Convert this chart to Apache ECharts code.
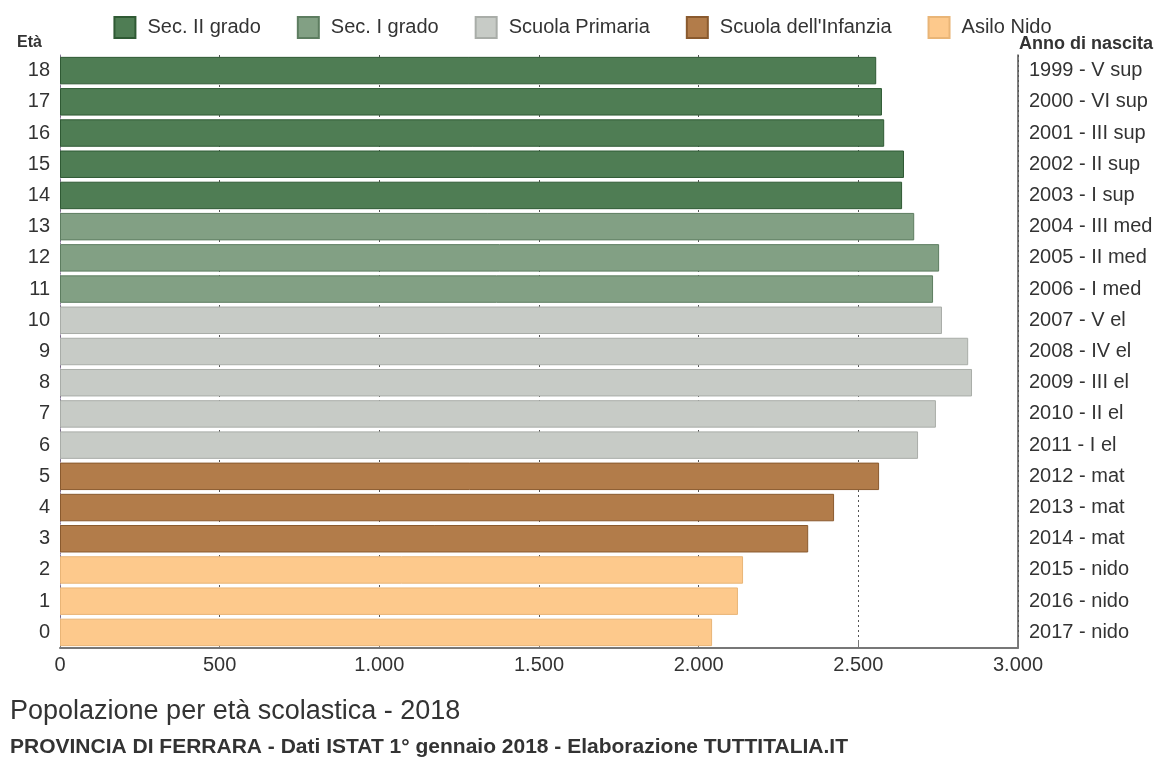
<!DOCTYPE html>
<html><head><meta charset="utf-8">
<script src="https://cdn.jsdelivr.net/npm/echarts@6/dist/echarts.min.js"></script>
<style>html,body{margin:0;padding:0;background:#fff}#c{width:1165px;height:762px}</style>
</head><body><div id="c"></div>
<script>
const ages = ['0','1','2','3','4','5','6','7','8','9','10','11','12','13','14','15','16','17','18'];
const birthLabels = ['2017 - nido','2016 - nido','2015 - nido','2014 - mat','2013 - mat','2012 - mat','2011 - I el','2010 - II el','2009 - III el','2008 - IV el','2007 - V el','2006 - I med','2005 - II med','2004 - III med','2003 - I sup','2002 - II sup','2001 - III sup','2000 - VI sup','1999 - V sup'];
const population = [2042,2123,2139,2343,2424,2565,2687,2743,2856,2844,2762,2734,2753,2675,2637,2643,2581,2574,2556];
const groupNames = ['Sec. II grado','Sec. I grado','Scuola Primaria',"Scuola dell'Infanzia",'Asilo Nido'];
const groupAges = [[14,18],[11,13],[6,10],[3,5],[0,2]];
const xTicks = [0,500,1000,1500,2000,2500,3000];

const colors = ['#4f7d54','#82a084','#c7cbc6','#b27c4a','#fdc98c'];
const borders = ['#2f5a34','#5d7d60','#a9ada8','#8a5a2e','#e9b577'];

const series = groupNames.map((name,i)=>({
  name, type:'bar', stack:'s', barCategoryGap:'12%',
  itemStyle:{color:colors[i], borderColor:borders[i], borderWidth:1},
  data: population.map((v,a)=> (a>=groupAges[i][0] && a<=groupAges[i][1]) ? v : '-')
}));

const chart = echarts.init(document.getElementById('c'));
chart.setOption({
  animation:false,
  backgroundColor:'#fff',
  textStyle:{fontFamily:'Liberation Sans'},
  legend:{top:11,left:'center',itemWidth:21,itemHeight:21,itemGap:36,icon:'rect',
    textStyle:{fontSize:20,color:'#333',padding:[0,0,0,7]}, data:groupNames},
  grid:{left:60,right:147,top:55,bottom:114},
  xAxis:{type:'value',min:0,max:3000,interval:500,
    axisLine:{show:true,lineStyle:{color:'#777',width:2}},
    axisTick:{show:true,inside:true,length:8,lineStyle:{color:'#777'}},
    axisLabel:{fontSize:20,color:'#333',margin:7,formatter:v=>v.toLocaleString('it-IT').replace(/\s/g,'.')},
    splitLine:{show:true,lineStyle:{color:'#555',type:[2,3],width:1}}},
  yAxis:[
    {type:'category',data:ages,position:'left',
      axisLine:{show:true,lineStyle:{color:'#8a7a9a',type:'dotted'}},axisTick:{show:false},
      axisLabel:{fontSize:20,color:'#333',margin:10}},
    {type:'category',data:birthLabels,position:'right',offset:0,
      axisLine:{show:true,lineStyle:{color:'#555',width:1.5}},axisTick:{show:false},
      axisLabel:{fontSize:20,color:'#333',margin:11,align:'left'}}
  ],
  graphic:[
    {type:'text',left:17,top:35,style:{text:'Età',fontSize:16,fontWeight:'bold',fill:'#333',fontFamily:'Liberation Sans'}},
    {type:'text',left:1019,top:35,style:{text:'Anno di nascita',fontSize:18,fontWeight:'bold',fill:'#333',fontFamily:'Liberation Sans'}},
    {type:'text',left:10,top:698,style:{text:'Popolazione per età scolastica - 2018',fontSize:27,fill:'#333',fontFamily:'Liberation Sans'}},
    {type:'text',left:10,top:737,style:{text:'PROVINCIA DI FERRARA - Dati ISTAT 1° gennaio 2018 - Elaborazione TUTTITALIA.IT',fontSize:21,fontWeight:'bold',fill:'#333',fontFamily:'Liberation Sans'}}
  ],
  series
});
</script></body></html>
